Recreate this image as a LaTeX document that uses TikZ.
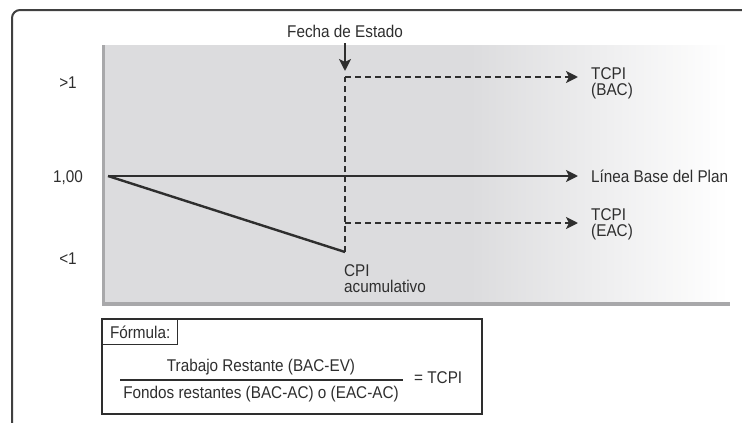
\documentclass[tikz,border=0pt]{standalone}
\usepackage{fontspec}
\setmainfont{Liberation Sans}[FakeStretch=0.9]
\usetikzlibrary{arrows.meta}
\definecolor{ink}{HTML}{2E2E2E}
\definecolor{panel}{HTML}{DCDCDE}
\definecolor{edge}{HTML}{A8A8AA}
\begin{document}
\begin{tikzpicture}[x=1pt,y=-1pt,
  font=\fontsize{17}{16.5}\selectfont,
  lbl/.style={text=ink, inner sep=0pt},
  stack/.style={lbl, align=left, font=\fontsize{17}{16}\selectfont},
  solidarrow/.style={line width=2.4, ink, -{Stealth[length=12,width=12,inset=3]}},
  dasharrow/.style={line width=2.4, ink, dash pattern=on 6pt off 4pt, -{Stealth[length=12,width=12,inset=3]}},
  dashline/.style={line width=2.4, ink, dash pattern=on 6pt off 4pt},
  plainline/.style={line width=2.4, ink}]
\useasboundingbox (0,0) rectangle (742,423);
% outer frame
\draw[line width=2, black!75, rounded corners=8] (12,430) -- (12,10) -- (750,10);
% panel
\fill[panel] (103,45) rectangle (470,303);
\shade[left color=panel, right color=white] (470,45) rectangle (728,303);
\draw[edge, line width=3] (103,45) -- (103,305);
\draw[edge, line width=4] (102,304) -- (730,304);
% y labels
\node[lbl] (gt) at (68,83) {>1};
\node[lbl] (one) at (68,178) {1,00};
\node[lbl] (lt) at (68,259) {<1};
% coordinates
\coordinate (O) at (108,176);
\coordinate (S) at (345,252);
\coordinate (T) at (345,77);
\coordinate (E) at (345,223);
\coordinate (Tend) at (578,77);
\coordinate (Eend) at (578,223);
\coordinate (Bend) at (578,176);
\coordinate (Fa) at (345,43);
\coordinate (Fb) at (345,71);
% labels
\node[lbl, anchor=base] (fecha) at (345,37) {Fecha de Estado};
\node[lbl, anchor=base west] (base) at (591,182) {Línea Base del Plan};
\node[stack, anchor=north west] (tbac) at (591,67) {TCPI\\(BAC)};
\node[stack, anchor=north west] (teac) at (591,208) {TCPI\\(EAC)};
\node[stack, anchor=north west] (cpi) at (344,264) {CPI\\acumulativo};
% lines
\draw[solidarrow] (O) -- (Bend);
\draw[plainline] (O) -- (S);
\draw[dashline] (S) -- (T);
\draw[dasharrow] (T) -- (Tend);
\draw[dasharrow] (E) -- (Eend);
\draw[solidarrow] (Fa) -- (Fb);
% formula box
\draw[line width=1.6, ink] (102,319) rectangle (482,414);
\node[draw=ink, line width=1.4, anchor=north west, minimum width=75, minimum height=25, inner sep=0pt, text=ink] (ftab) at (102,319) {Fórmula:};
\node[lbl] (num) at (261,367) {Trabajo Restante (BAC-EV)};
\node[lbl] (den) at (261,394) {Fondos restantes (BAC-AC) o (EAC-AC)};
\coordinate (fl) at (120,380);
\coordinate (fr) at (403,380);
\draw[line width=1.3, ink] (fl) -- (fr);
\node[lbl, anchor=west] (eq) at (414,378) {= TCPI};
\end{tikzpicture}
\end{document}
